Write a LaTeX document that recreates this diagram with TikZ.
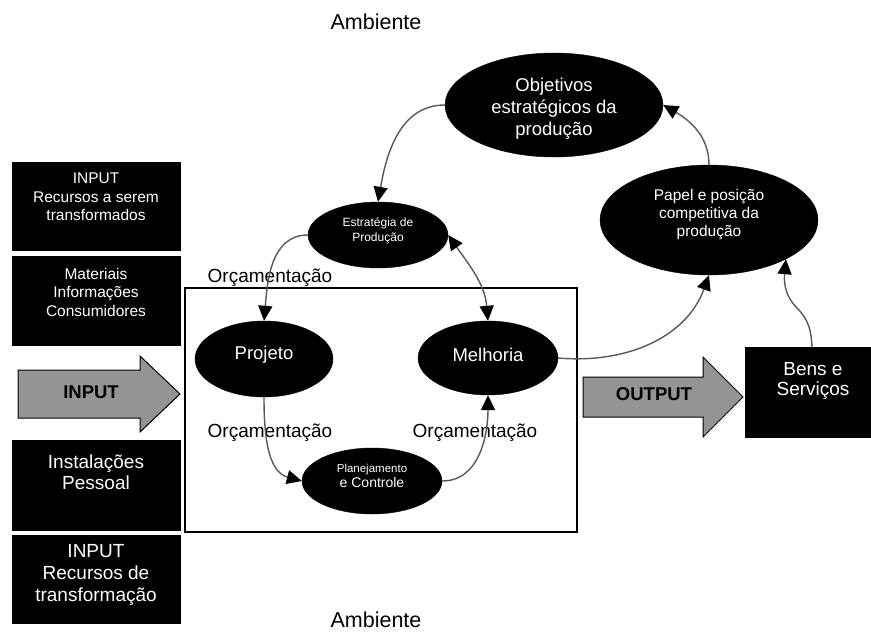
\documentclass[tikz,border=0pt]{standalone}
\usepackage{fontspec}
\setmainfont{Liberation Sans}
\usetikzlibrary{shapes.geometric,arrows.meta}
\newcommand\myfs[2]{\fontsize{#1}{#2}\selectfont}
\begin{document}
\begin{tikzpicture}[x=1pt,y=-1pt,
  blk/.style={fill=black,draw=black,inner sep=0pt},
  oval/.style={ellipse,fill=black,draw=black,inner sep=0pt,text=white,align=center},
  wtxt/.style={text=white,align=center,inner sep=0pt},
  conn/.style={draw=black!65,line width=1.4pt,-{Triangle[length=15pt,width=14pt,color=black]}},
  conntwo/.style={draw=black!65,line width=1.4pt,{Triangle[length=15pt,width=14pt,color=black]}-{Triangle[length=15pt,width=14pt,color=black]}},
  bigarrow/.style={fill=black!42,draw=black,line width=1pt,line join=miter},
  lbl/.style={inner sep=0pt,font=\myfs{19}{22}},
  amb/.style={inner sep=0pt,font=\myfs{21.5}{24}}]
\useasboundingbox (0,0) rectangle (871,633);
\fill[white] (0,0) rectangle (871,633);

% texts Ambiente
\node[amb] (ambtop) at (376,22) {Ambiente};
\node[amb] (ambbot) at (376,620) {Ambiente};

% frame
\node[draw=black,line width=1.2pt,fill=white,minimum width=392pt,minimum height=244pt,inner sep=0pt] (frame) at (381,410) {};

% left boxes
\node[blk,minimum width=168pt,minimum height=88pt] (b1) at (96,206) {};
\node[wtxt,font=\myfs{15.5}{18.5}] (t1) at (96,197) {INPUT\\Recursos a serem\\transformados};
\node[blk,minimum width=168pt,minimum height=89pt] (b2) at (96,300.5) {};
\node[wtxt,font=\myfs{15.5}{18.5}] (t2) at (96,292) {Materiais\\Informações\\Consumidores};
\node[blk,minimum width=168pt,minimum height=90pt] (b3) at (96,485) {};
\node[wtxt,font=\myfs{19}{20.5}] (t3) at (96,472) {Instalações\\Pessoal};
\node[blk,minimum width=168pt,minimum height=88pt] (b4) at (96,579) {};
\node[wtxt,font=\myfs{19}{22}] (t4) at (96,575) {INPUT\\Recursos de\\transformação};

% big arrows
\draw[bigarrow] (18,370) -- (140,370) -- (140,356) -- (180,394) -- (140,432) -- (140,418) -- (18,418) -- cycle;
\node[inner sep=0pt,font=\bfseries\myfs{18.5}{20}] (inp) at (91,392) {INPUT};
\draw[bigarrow] (583,377) -- (703,377) -- (703,357) -- (743,397) -- (703,437) -- (703,417) -- (583,417) -- cycle;
\node[inner sep=0pt,font=\bfseries\myfs{18.5}{20}] (outp) at (654,394) {OUTPUT};

% Bens e Servicos
\node[blk,minimum width=126pt,minimum height=90pt] (bens) at (808,392) {};
\node[wtxt,font=\myfs{19}{20.5}] (tb) at (813,381) {Bens e\\Serviços};

% ellipses
\node[oval,minimum width=218pt,minimum height=104pt] (obj) at (554,105) {};
\node[wtxt,font=\myfs{18.5}{22}] (tobj) at (554,109) {Objetivos\\estratégicos da\\produção};
\node[oval,minimum width=140pt,minimum height=66pt,font=\myfs{12}{15}] (estr) at (378,235) {};
\node[wtxt,font=\myfs{12}{15}] (testr) at (378,231) {Estratégia de\\Produção};
\node[oval,minimum width=218pt,minimum height=110pt] (pap) at (709,220) {};
\node[wtxt,font=\myfs{15.5}{18}] (tpap) at (709,215) {Papel e posição\\competitiva da\\produção};
\node[oval,minimum width=138pt,minimum height=76pt] (proj) at (264,359) {};
\node[wtxt,font=\myfs{18.5}{20}] (tproj) at (264,355) {Projeto};
\node[oval,minimum width=140pt,minimum height=74pt] (mel) at (488,358) {};
\node[wtxt,font=\myfs{18.5}{20}] (tmel) at (488,355) {Melhoria};
\node[oval,minimum width=140pt,minimum height=66pt] (plan) at (372,481) {};
\node[wtxt] (tplan) at (372,476) {{\myfs{11.5}{13}Planejamento}\\[1pt]{\myfs{14}{16}e Controle}};

% labels
\node[lbl] (o1) at (270,278) {Orçamentação};
\node[lbl] (o2) at (270,433) {Orçamentação};
\node[lbl] (o3) at (475,433) {Orçamentação};

% connectors
\coordinate (w) at (797,308);
\draw[conn] (obj.west) to[out=180,in=80] (estr.north);
\draw[conn] (estr.west) to[out=180,in=85] (proj.north);
\draw[conntwo] (mel.north) to[out=95,in=-55] (estr.east);
\draw[conn] (proj.south) to[out=-90,in=165] (plan.west);
\draw[conn] (plan.east) to[out=0,in=-90] (mel.south);
\draw[conn] (mel.east) to[out=-5,in=-110] (pap.south);
\draw[conn] (bens.85) to[out=92,in=-45] (w) to[out=135,in=-95] (pap.-27);
\draw[conn] (pap.north) to[out=90,in=-30] (obj.east);
\end{tikzpicture}
\end{document}
